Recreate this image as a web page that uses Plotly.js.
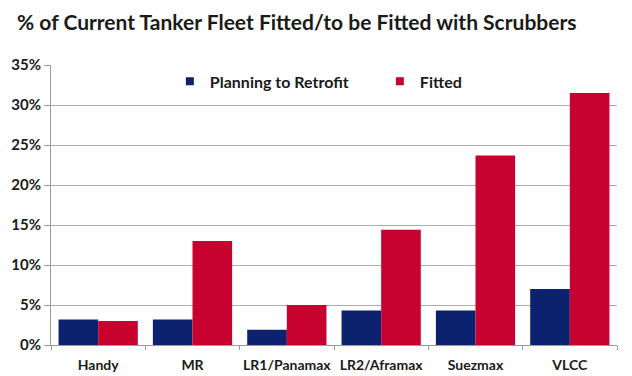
<!DOCTYPE html>
<html>
<head>
<meta charset="utf-8">
<script src="https://cdn.plot.ly/plotly-3.0.1.min.js"></script>
<style>html,body{margin:0;padding:0;background:#fff;}#chart{width:632px;height:376px;}</style>
</head>
<body>
<div id="chart"></div>
<script>
const categories = ["Handy", "MR", "LR1/Panamax", "LR2/Aframax", "Suezmax", "VLCC"];
const planningToRetrofit = [0.032, 0.032, 0.019, 0.043, 0.043, 0.070];
const fitted = [0.030, 0.130, 0.050, 0.144, 0.237, 0.315];
const seriesNames = ["Planning to Retrofit", "Fitted"];
const seriesColors = ["#0c226e", "#c8022f"];
const yTickVals = [0, 0.05, 0.10, 0.15, 0.20, 0.25, 0.30, 0.35];

const traces = [
  {type: "bar", name: seriesNames[0], x: categories, y: planningToRetrofit,
   marker: {color: seriesColors[0]}, hoverinfo: "none", showlegend: false},
  {type: "bar", name: seriesNames[1], x: categories, y: fitted,
   marker: {color: seriesColors[1]}, hoverinfo: "none", showlegend: false},
  // legend-only entries with small square symbols
  {type: "scatter", mode: "markers", name: seriesNames[0], x: [null], y: [null],
   marker: {symbol: "square", size: 8, color: seriesColors[0]}, hoverinfo: "none"},
  {type: "scatter", mode: "markers", name: seriesNames[1], x: [null], y: [null],
   marker: {symbol: "square", size: 8, color: seriesColors[1]}, hoverinfo: "none"}
];

const layout = {
  width: 632, height: 376,
  margin: {l: 51, r: 15, t: 65, b: 31, pad: 0},
  paper_bgcolor: "#ffffff", plot_bgcolor: "#ffffff",
  font: {family: "Lato, 'Open Sans', sans-serif", color: "#1a1a1a"},
  title: {text: "<b>% of Current Tanker Fleet Fitted/to be Fitted with Scrubbers</b>",
          font: {size: 21, family: "Lato", color: "#1a1a1a"},
          x: 0.027, xanchor: "left", y: 0.94, yanchor: "middle"},
  barmode: "group", bargap: 0.16, bargroupgap: 0,
  showlegend: true,
  legend: {orientation: "h", x: 0.21, xanchor: "left", y: 1.002, yanchor: "top",
           font: {size: 16, family: "Lato", color: "#1a1a1a", weight: "bold"},
           bgcolor: "rgba(0,0,0,0)", entrywidth: 165, entrywidthmode: "pixels"},
  xaxis: {type: "category", showgrid: false, showline: true, linecolor: "#9a9a9a", linewidth: 1,
          ticks: "outside", ticklen: 4, tickcolor: "#9a9a9a", tickson: "boundaries",
          ticklabelstandoff: 7, tickangle: 0,
          tickfont: {size: 14, family: "Lato", weight: "bold", color: "#1a1a1a"}, fixedrange: true},
  yaxis: {range: [0, 0.35], tickvals: yTickVals, tickformat: ".0%", showgrid: true,
          gridcolor: "#ababab", gridwidth: 1, showline: true, linecolor: "#9a9a9a",
          ticks: "outside", ticklen: 6, tickcolor: "#9a9a9a", zeroline: false,
          tickfont: {size: 15, family: "Lato", weight: "bold", color: "#1a1a1a"}, fixedrange: true}
};

Plotly.newPlot("chart", traces, layout, {displayModeBar: false, staticPlot: true});
</script>
</body>
</html>
